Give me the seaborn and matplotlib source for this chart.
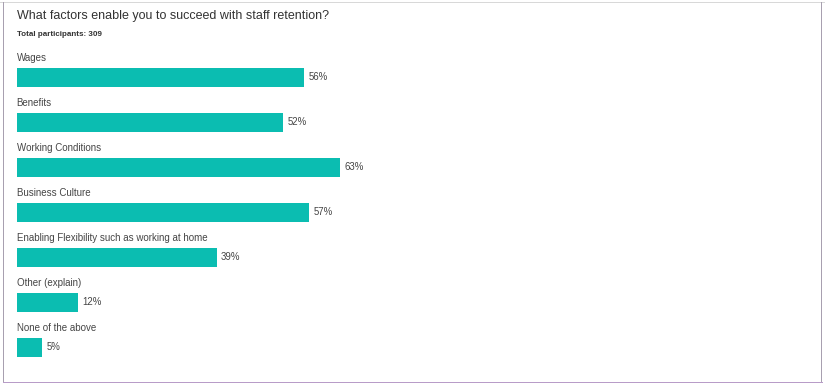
import matplotlib
matplotlib.use("Agg")
import matplotlib.pyplot as plt
import seaborn as sns
import pandas as pd
from matplotlib.patches import Rectangle

categories = ["Wages", "Benefits", "Working Conditions", "Business Culture",
              "Enabling Flexibility such as working at home", "Other (explain)",
              "None of the above"]
values = [56, 52, 63, 57, 39, 12, 5]
title = "What factors enable you to succeed with staff retention?"
subtitle = "Total participants: 309"

df = pd.DataFrame({"category": categories, "value": values})

sns.set_theme(style="white")
plt.rcParams["font.family"] = ["Liberation Sans", "DejaVu Sans"]

W, H = 825, 384
fig = plt.figure(figsize=(W / 100, H / 100), dpi=100)
fig.patch.set_facecolor("white")

# axes placement (pixels -> fraction)
top_px, bot_px = 50, 365
left_px, width_px = 16.7, 513
ax = fig.add_axes([left_px / W, (H - bot_px) / H, width_px / W, (bot_px - top_px) / H])

teal = "#0BBDB1"
sns.barplot(data=df, x="value", y="category", orient="h", color=teal,
            width=0.42, ax=ax, saturation=1, linewidth=0)

ax.set_xlim(0, 100)
ax.set_ylim(6.389, -0.611)
ax.set_axis_off()

for i, (c, v) in enumerate(zip(categories, values)):
    ax.text(0, i - 0.43, c, ha="left", va="center", fontsize=7.0, color="#454545")
    ax.text(v + 0.85, i, f"{v}%", ha="left", va="center", fontsize=6.9, color="#454545")

fig.text(17 / W, 1 - 16 / H, title, ha="left", va="center", fontsize=9.0, color="#333333")
fig.text(17 / W, 1 - 34 / H, subtitle, ha="left", va="center", fontsize=5.8,
         color="#333333", fontweight="bold")

# frame lines
fig.add_artist(Rectangle((0, 1 - 3 / H), 1, 1.5 / H, transform=fig.transFigure,
                         color="#d8d8d8", lw=0))
fig.add_artist(Rectangle((2.5 / W, 1 - 383 / H), 1.5 / W, 381 / H, transform=fig.transFigure,
                         color="#a8a0b0", lw=0))
fig.add_artist(Rectangle((820.5 / W, 1 - 383 / H), 1.8 / W, 381 / H, transform=fig.transFigure,
                         color="#a8a0b0", lw=0))
fig.add_artist(Rectangle((2.5 / W, 1 - 383 / H), 820 / W, 1.5 / H, transform=fig.transFigure,
                         color="#b89cc8", lw=0))

fig.savefig("out.png", dpi=100, facecolor="white")
